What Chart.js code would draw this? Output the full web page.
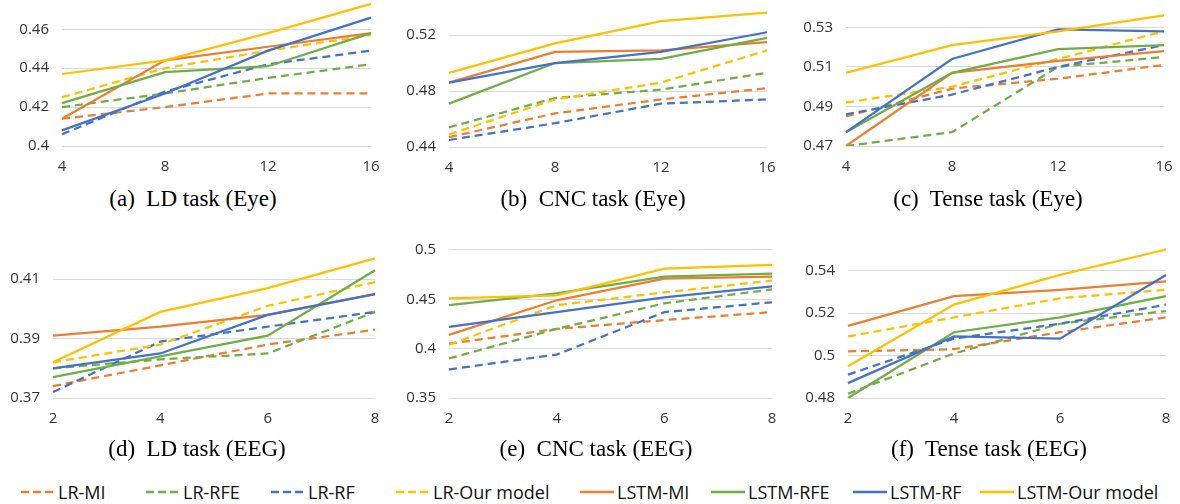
<!DOCTYPE html>
<html>
<head>
<meta charset="utf-8">
<script src="https://cdn.jsdelivr.net/npm/chart.js@4/dist/chart.umd.min.js"></script>
<style>
  html, body { margin: 0; padding: 0; background: #fff; }
  body { width: 1180px; height: 504px; position: relative; overflow: hidden; }
  canvas { position: absolute; }
  .cap { position: absolute; width: 400px; text-align: center; font-family: "Liberation Serif", "Times New Roman", serif; font-size: 23px; line-height: 26px; color: #000; white-space: pre; }
  .leg { position: absolute; height: 24px; line-height: 24px; font-family: "Open Sans", "Noto Sans", sans-serif; font-size: 18px; color: #111; white-space: pre; }
  .leg svg { position: absolute; top: 10px; left: 0; }
  .leg span { position: absolute; top: 0; }
</style>
</head>
<body>
<script>
// ---------- data ----------
const seriesNames = ['LR-MI', 'LR-RFE', 'LR-RF', 'LR-Our model', 'LSTM-MI', 'LSTM-RFE', 'LSTM-RF', 'LSTM-Our model'];
const xEye = ['4', '8', '12', '16'];
const xEEG = ['2', '4', '6', '8'];

// rows follow seriesNames order
const ldEye = [
  [0.414, 0.420, 0.427, 0.427],
  [0.420, 0.427, 0.435, 0.442],
  [0.406, 0.428, 0.442, 0.449],
  [0.425, 0.440, 0.449, 0.457],
  [0.414, 0.444, 0.451, 0.458],
  [0.422, 0.438, 0.441, 0.458],
  [0.408, 0.427, 0.449, 0.466],
  [0.437, 0.444, 0.458, 0.473]
];
const cncEye = [
  [0.447, 0.464, 0.474, 0.482],
  [0.454, 0.475, 0.481, 0.493],
  [0.445, 0.457, 0.471, 0.474],
  [0.449, 0.474, 0.486, 0.509],
  [0.486, 0.508, 0.509, 0.515],
  [0.471, 0.500, 0.503, 0.518],
  [0.486, 0.500, 0.508, 0.522],
  [0.493, 0.514, 0.530, 0.536]
];
const tenseEye = [
  [0.485, 0.499, 0.504, 0.511],
  [0.470, 0.477, 0.510, 0.515],
  [0.486, 0.496, 0.510, 0.521],
  [0.492, 0.500, 0.514, 0.528],
  [0.470, 0.507, 0.513, 0.518],
  [0.477, 0.507, 0.519, 0.521],
  [0.477, 0.514, 0.529, 0.528],
  [0.507, 0.521, 0.528, 0.536]
];
const ldEEG = [
  [0.374, 0.381, 0.388, 0.393],
  [0.380, 0.383, 0.385, 0.399],
  [0.372, 0.389, 0.394, 0.399],
  [0.382, 0.388, 0.401, 0.409],
  [0.391, 0.394, 0.398, 0.405],
  [0.377, 0.384, 0.391, 0.413],
  [0.380, 0.385, 0.398, 0.405],
  [0.382, 0.399, 0.407, 0.417]
];
const cncEEG = [
  [0.405, 0.420, 0.429, 0.437],
  [0.390, 0.420, 0.446, 0.460],
  [0.379, 0.394, 0.437, 0.447],
  [0.404, 0.444, 0.457, 0.469],
  [0.414, 0.449, 0.471, 0.473],
  [0.444, 0.456, 0.473, 0.476],
  [0.422, 0.437, 0.452, 0.463],
  [0.451, 0.454, 0.481, 0.485]
];
const tenseEEG = [
  [0.502, 0.503, 0.511, 0.518],
  [0.482, 0.501, 0.515, 0.521],
  [0.491, 0.508, 0.515, 0.524],
  [0.509, 0.518, 0.527, 0.531],
  [0.514, 0.528, 0.531, 0.535],
  [0.480, 0.511, 0.518, 0.528],
  [0.487, 0.509, 0.508, 0.538],
  [0.495, 0.524, 0.538, 0.550]
];
const captions = ['(a)  LD task (Eye)', '(b)  CNC task (Eye)', '(c)  Tense task (Eye)',
                  '(d)  LD task (EEG)', '(e)  CNC task (EEG)', '(f)  Tense task (EEG)'];
const yMin = [0.40, 0.44, 0.47, 0.37, 0.35, 0.48];
const yMax = [0.474, 0.5436, 0.5428, 0.4205, 0.502, 0.5507];
const yStep = [0.02, 0.04, 0.02, 0.02, 0.05, 0.02];

// ---------- styling / layout ----------
const colors = ['#ED7D31', '#70AD47', '#4472C4', '#FFC000', '#ED7D31', '#70AD47', '#4472C4', '#FFC000'];
const dashed = [true, true, true, true, false, false, false, false];
const panels = [
  { data: ldEye,    x: xEye, L: 62,  R: 371,  T: 2,   B: 146, cx: 193, cy: 199 },
  { data: cncEye,   x: xEye, L: 449, R: 767,  T: 2,   B: 147, cx: 593, cy: 199 },
  { data: tenseEye, x: xEye, L: 846, R: 1164, T: 2,   B: 146, cx: 988, cy: 199 },
  { data: ldEEG,    x: xEEG, L: 53,  R: 375,  T: 248, B: 398, cx: 197, cy: 449 },
  { data: cncEEG,   x: xEEG, L: 449, R: 772,  T: 248, B: 398, cx: 596, cy: 449 },
  { data: tenseEEG, x: xEEG, L: 848, R: 1166, T: 248, B: 398, cx: 989, cy: 449 }
];
const YW = 50, XH = 40, PT = 10, PR = 16;
const tickFont = { family: '"Open Sans", "Noto Sans", sans-serif', size: 15 };

panels.forEach((p, k) => {
  const cv = document.createElement('canvas');
  const w = YW + (p.R - p.L) + PR;
  const h = PT + (p.B - p.T) + XH;
  cv.width = w; cv.height = h;
  cv.style.left = (p.L - YW) + 'px';
  cv.style.top = (p.T - PT) + 'px';
  cv.style.width = w + 'px'; cv.style.height = h + 'px';
  document.body.appendChild(cv);

  const step = yStep[k], lo = yMin[k], hi = yMax[k];
  new Chart(cv, {
    type: 'line',
    data: {
      labels: p.x,
      datasets: seriesNames.map((name, i) => ({
        label: name,
        data: p.data[i],
        borderColor: colors[i],
        backgroundColor: colors[i],
        borderWidth: 2.25,
        borderDash: dashed[i] ? [8, 5] : [],
        pointRadius: 0,
        pointHoverRadius: 0,
        tension: 0,
        fill: false,
        order: 7 - i
      }))
    },
    options: {
      responsive: false,
      animation: false,
      events: [],
      layout: { padding: { top: PT, right: PR, left: 0, bottom: 0 } },
      plugins: { legend: { display: false }, tooltip: { enabled: false } },
      scales: {
        x: {
          type: 'category',
          offset: false,
          grid: { display: false, drawTicks: false },
          border: { display: false },
          ticks: { font: tickFont, color: '#333', padding: 12, maxRotation: 0, autoSkip: false },
          afterFit: (s) => { s.height = XH; s.paddingLeft = 0; s.paddingRight = 0; }
        },
        y: {
          min: lo, max: hi,
          ticks: {
            font: tickFont, color: '#333', padding: 13,
            callback: (v) => String(Number(Number(v).toFixed(4)))
          },
          afterBuildTicks: (axis) => {
            const t = [];
            for (let n = 0; lo + n * step <= hi + 1e-9; n++) t.push({ value: Number((lo + n * step).toFixed(4)) });
            axis.ticks = t;
          },
          grid: { color: '#d9d9d9', lineWidth: 1, drawTicks: false },
          border: { display: false },
          afterFit: (s) => { s.width = YW; s.paddingTop = 0; s.paddingBottom = 0; }
        }
      }
    }
  });

  const cap = document.createElement('div');
  cap.className = 'cap';
  cap.textContent = captions[k];
  cap.style.left = (p.cx - 200) + 'px';
  cap.style.top = (p.cy - 13) + 'px';
  document.body.appendChild(cap);
});

// ---------- legend ----------
const legendX = [21, 146, 271, 396, 580, 711, 853, 980];
const legendY = 480;
seriesNames.forEach((name, i) => {
  const d = document.createElement('div');
  d.className = 'leg';
  d.style.left = legendX[i] + 'px';
  d.style.top = legendY + 'px';
  const dash = dashed[i] ? 'stroke-dasharray="8,4"' : '';
  d.innerHTML = '<svg width="34" height="4"><line x1="0" y1="2" x2="34" y2="2" stroke="' + colors[i] + '" stroke-width="2.5" ' + dash + '/></svg>';
  const s = document.createElement('span');
  s.style.left = '37px';
  s.textContent = name;
  d.appendChild(s);
  document.body.appendChild(d);
});
</script>
</body>
</html>
